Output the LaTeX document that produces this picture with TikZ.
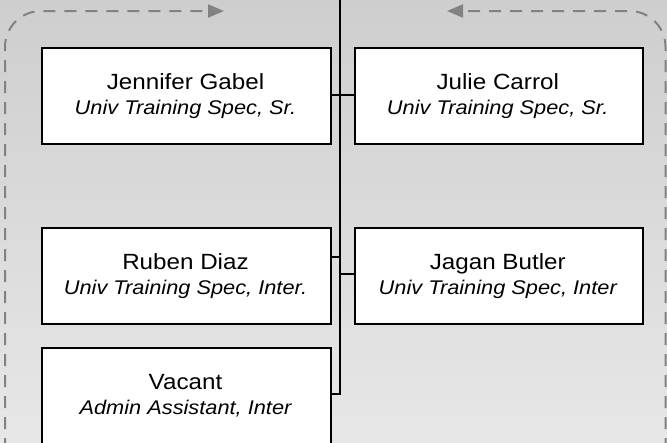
\documentclass[tikz,border=0pt]{standalone}
\usepackage{fontspec}
\setmainfont{Liberation Sans}[FakeStretch=1.1]
\usetikzlibrary{arrows.meta}
\definecolor{bgtop}{RGB}{206,206,206}
\definecolor{bgbot}{RGB}{231,231,231}
\definecolor{dashgray}{RGB}{130,130,130}
\tikzset{
  box/.style={draw=black, line width=2pt, fill=white, minimum height=96pt, inner sep=0pt, anchor=north west},
  pname/.style={anchor=base, inner sep=0pt, font=\fontsize{22}{26}\selectfont},
  ptitle/.style={anchor=base, inner sep=0pt, font=\fontsize{19.8}{24}\selectfont\itshape},
  conn/.style={draw=black, line width=2pt},
  loop/.style={draw=dashgray, line width=2pt, dash pattern=on 12pt off 9pt, rounded corners=36pt,
    -{Triangle[length=16pt,width=13pt]}},
}
\begin{document}
\begin{tikzpicture}[x=1pt,y=-1pt]
\useasboundingbox (0,0) rectangle (667,442);
\begin{scope}
\clip (0,0) rectangle (667,442);
\shade[top color=bgtop, bottom color=bgbot] (0,0) rectangle (667,442);
% dashed loops
\coordinate (lb) at (5,450);
\coordinate (lc) at (5,11);
\coordinate (lt) at (224,11);
\coordinate (rb) at (665.5,450);
\coordinate (rc) at (665.5,11);
\coordinate (rt) at (447,11);
\draw[loop] (lb) -- (lc) -- (lt);
\draw[loop] (rb) -- (rc) -- (rt);
% trunk
\coordinate (trunktop) at (339.5,-5);
\coordinate (trunkjg) at (339.5,95);
\coordinate (trunkrd) at (339.5,257);
\coordinate (trunkjb) at (339.5,274);
\coordinate (trunkv) at (339.5,394);
% boxes
\node[box, minimum width=289pt] (jg) at (41,47) {};
\node[box, minimum width=288.5pt] (jc) at (353.5,47) {};
\node[box, minimum width=289pt] (rd) at (41,227) {};
\node[box, minimum width=288.5pt] (jb) at (353.5,227) {};
\node[box, minimum width=289pt] (va) at (41,347) {};
% connectors
\draw[conn] (trunktop) -- (trunkv) -- (trunkv -| va.east);
\draw[conn] (jg.east |- trunkjg) -- (jc.west |- trunkjg);
\draw[conn] (rd.east |- trunkrd) -- (trunkrd);
\draw[conn] (trunkjb) -- (jb.west |- trunkjb);
% texts
\node[pname] (jgn) at (185.5,89) {Jennifer Gabel};
\node[ptitle] (jgt) at (185.5,114) {Univ Training Spec, Sr.};
\node[pname] (jcn) at (497.75,89) {Julie Carrol};
\node[ptitle] (jct) at (497.75,114) {Univ Training Spec, Sr.};
\node[pname] (rdn) at (185.5,269) {Ruben Diaz};
\node[ptitle] (rdt) at (185.5,294) {Univ Training Spec, Inter.};
\node[pname] (jbn) at (497.75,269) {Jagan Butler};
\node[ptitle] (jbt) at (497.75,294) {Univ Training Spec, Inter};
\node[pname] (van) at (185.5,389) {Vacant};
\node[ptitle] (vat) at (185.5,414) {Admin Assistant, Inter};
\end{scope}
\end{tikzpicture}
\end{document}
